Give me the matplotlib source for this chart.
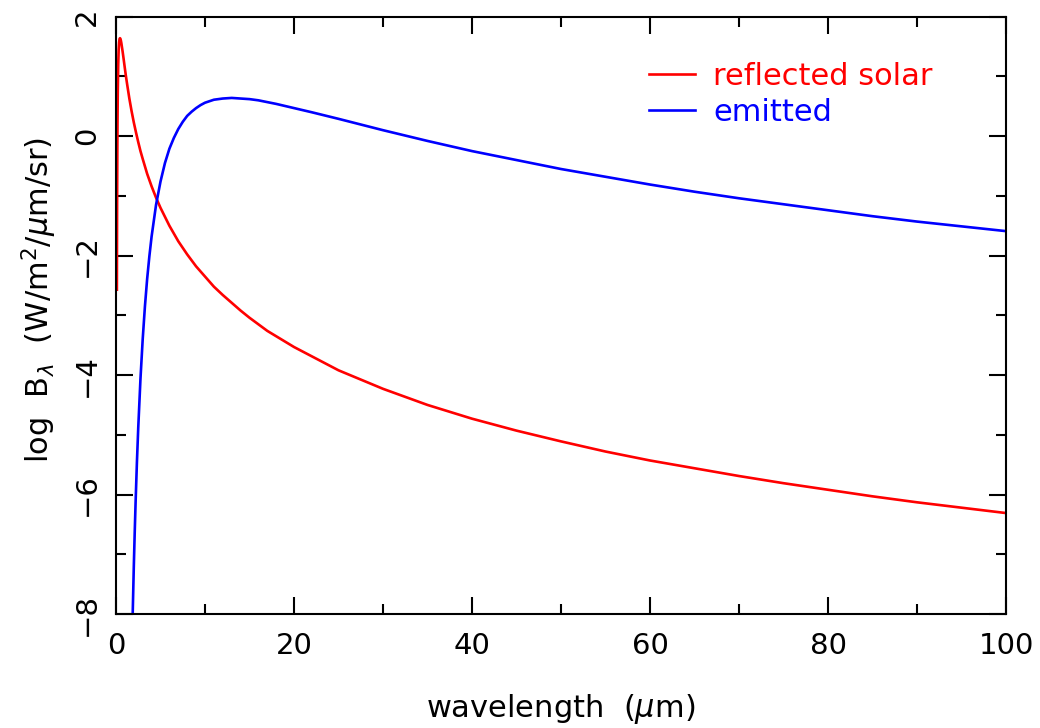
import numpy as np
import matplotlib
matplotlib.use('Agg')
import matplotlib.pyplot as plt
from matplotlib.ticker import MultipleLocator

# values (log10 B_lambda vs wavelength in um)
wl_solar = [0.1, 0.11, 0.12, 0.13, 0.15, 0.17, 0.2, 0.25, 0.3, 0.35, 0.4, 0.45, 0.5,
            0.55, 0.6, 0.65, 0.7, 0.75, 0.85, 1.0, 1.1, 1.25, 1.5, 1.75, 2.0, 2.25,
            2.5, 2.75, 3.0, 3.5, 4.0, 4.5, 5.0, 6.0, 7.0, 8.0, 9.0, 10.0, 11.0, 12.0,
            14.0, 15.0, 17.0, 20.0, 25.0, 30.0, 35.0, 40.0, 45.0, 50.0, 55.0, 60.0,
            65.0, 70.0, 75.0, 80.0, 85.0, 90.0, 95.0, 100.0]
logb_solar = [-2.57, -1.91, -1.37, -0.92, -0.25, 0.23, 0.73, 1.20, 1.45, 1.57, 1.63, 1.64, 1.63,
              1.60, 1.56, 1.51, 1.46, 1.41, 1.30, 1.13, 1.02, 0.87, 0.63, 0.42, 0.23, 0.06,
              -0.10, -0.25, -0.38, -0.63, -0.84, -1.03, -1.20, -1.50, -1.76, -1.98, -2.18, -2.35, -2.52, -2.66,
              -2.92, -3.04, -3.26, -3.53, -3.92, -4.23, -4.50, -4.73, -4.93, -5.11, -5.28, -5.43,
              -5.56, -5.69, -5.81, -5.92, -6.03, -6.13, -6.22, -6.31]

wl_emit = [1.8, 1.87, 2.0, 2.1, 2.2, 2.35, 2.5, 2.75, 3.0, 3.25, 3.5, 3.75, 4.0, 4.5,
           5.0, 5.5, 6.0, 6.5, 7.0, 7.5, 8.0, 8.5, 9.0, 9.5, 10.0, 11.0, 12.0, 13.0,
           14.0, 15.0, 16.0, 17.0, 18.0, 20.0, 22.0, 25.0, 30.0, 35.0, 40.0, 45.0,
           50.0, 55.0, 60.0, 65.0, 70.0, 75.0, 80.0, 85.0, 90.0, 95.0, 100.0]
logb_emit = [-8.54, -8.04, -7.21, -6.65, -6.14, -5.46, -4.88, -4.06, -3.40, -2.85, -2.39, -2.01, -1.68, -1.15,
             -0.76, -0.45, -0.21, -0.03, 0.12, 0.24, 0.34, 0.41, 0.47, 0.52, 0.56, 0.61, 0.63, 0.64,
             0.63, 0.62, 0.60, 0.57, 0.54, 0.47, 0.40, 0.29, 0.10, -0.08, -0.25, -0.40,
             -0.55, -0.68, -0.81, -0.93, -1.04, -1.14, -1.24, -1.34, -1.43, -1.51, -1.59]

plt.rcParams['font.family'] = ['DejaVu Sans']
plt.rcParams['mathtext.fontset'] = 'dejavusans'

fig = plt.figure(figsize=(10.4, 7.28), dpi=100)
ax = fig.add_axes([116/1040, 1-614/728, 890/1040, 597.3/728])

ax.plot(wl_solar, logb_solar, color='red', lw=1.9, label='reflected solar')
ax.plot(wl_emit, logb_emit, color='blue', lw=1.9, label='emitted')

ax.set_xlim(0, 100)
ax.set_ylim(-8, 2)
ax.xaxis.set_major_locator(MultipleLocator(20))
ax.xaxis.set_minor_locator(MultipleLocator(10))
ax.yaxis.set_major_locator(MultipleLocator(2))
ax.yaxis.set_minor_locator(MultipleLocator(1))
ax.tick_params(which='both', direction='in', top=True, right=True, width=1.5)
ax.tick_params(which='major', length=12)
ax.tick_params(which='minor', length=7)
ax.tick_params(axis='x', labelsize=21, pad=13)
ax.tick_params(axis='y', labelsize=21, pad=11)
for lbl in ax.get_yticklabels():
    lbl.set_rotation(90)
    lbl.set_va('center')
for s in ax.spines.values():
    s.set_linewidth(1.5)

ax.set_xlabel(r'wavelength  ($\mu$m)', fontsize=22)
ax.xaxis.set_label_coords(0.5, -0.13)
ax.set_ylabel(r'log  B$_\lambda$  (W/m$^2$/$\mu$m/sr)', fontsize=22)
ax.yaxis.set_label_coords(-0.064, 0.526)

leg = ax.legend(loc='upper left', bbox_to_anchor=((649-116)/890, (614-62)/597.3),
                frameon=False, fontsize=22, labelcolor='linecolor',
                handlelength=1.5, handletextpad=0.6, labelspacing=0.22, borderpad=0,
                borderaxespad=0)

fig.savefig('out.png', dpi=100)
